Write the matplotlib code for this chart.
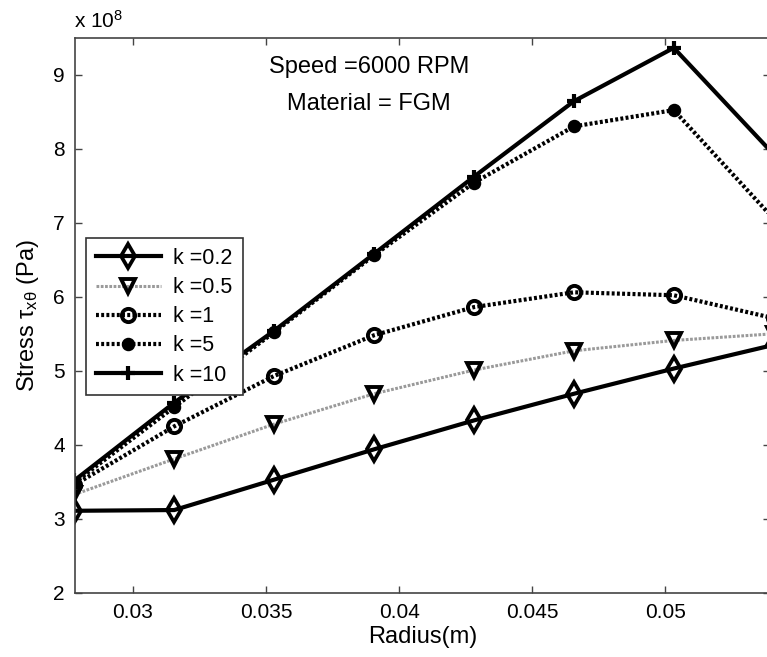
import matplotlib
matplotlib.use('Agg')
import matplotlib.pyplot as plt

plt.rcParams['font.family'] = ['Liberation Sans', 'DejaVu Sans']
plt.rcParams['mathtext.fontset'] = 'custom'
plt.rcParams['mathtext.rm'] = 'Liberation Sans'
plt.rcParams['mathtext.it'] = 'Liberation Sans'
plt.rcParams['mathtext.bf'] = 'Liberation Sans:bold'

# 半径 (m)
radius = [0.0278, 0.03155, 0.0353, 0.03906, 0.04281, 0.04657, 0.05032, 0.05408]

# 剪应力 (x 10^8 Pa)
stress_k02 = [3.11, 3.12, 3.53, 3.94, 4.33, 4.69, 5.03, 5.35]
stress_k05 = [3.33, 3.81, 4.28, 4.69, 5.01, 5.27, 5.41, 5.50]
stress_k1 = [3.46, 4.25, 4.93, 5.48, 5.86, 6.06, 6.02, 5.71]
stress_k5 = [3.49, 4.51, 5.52, 6.56, 7.54, 8.30, 8.52, 7.05]
stress_k10 = [3.52, 4.57, 5.54, 6.58, 7.62, 8.64, 9.36, 7.92]

labels = ['k =0.2', 'k =0.5', 'k =1', 'k =5', 'k =10']

fig = plt.figure(figsize=(7.67, 6.57), dpi=100)
ax = fig.add_axes([74.7 / 767, 64 / 657, (770 - 74.7) / 767, (593 - 37.5) / 657])

dots = (0, (0.7, 0.55))
ax.plot(radius, stress_k02, color='black', lw=3, marker='d', ms=12,
        mfc='none', mec='black', mew=2.7, label=labels[0])
ax.plot(radius, stress_k05, color='#9a9a9a', lw=2.2, ls=(0, (0.9, 0.5)), marker='v', ms=10,
        mfc='none', mec='black', mew=2.8, label=labels[1])
ax.plot(radius, stress_k1, color='black', lw=3, ls=dots, marker='o', ms=9.5,
        mfc='none', mec='black', mew=2.8, label=labels[2])
ax.plot(radius, stress_k5, color='black', lw=3, ls=dots, marker='o', ms=8.5,
        mfc='black', mec='black', mew=1.2, label=labels[3])
ax.plot(radius, stress_k10, color='black', lw=3, marker='+', ms=10.5,
        mec='black', mew=3, label=labels[4])

x_right = 0.05 + (770 - 665.3) / 133 * 0.005
ax.set_xlim(0.02781, x_right)
ax.set_ylim(2, 9.5)
ax.set_xticks([0.03, 0.035, 0.04, 0.045, 0.05])
ax.set_xticklabels(['0.03', '0.035', '0.04', '0.045', '0.05'])
ax.set_yticks([2, 3, 4, 5, 6, 7, 8, 9])

for s in ax.spines.values():
    s.set_color('#444444')
    s.set_linewidth(1.2)
ax.tick_params(direction='in', length=5, width=1, color='#444444',
               labelsize=15, top=True, right=True, pad=7)

ax.set_xlabel('Radius(m)', fontsize=17, labelpad=3)
ax.set_ylabel(r'Stress $\tau_{x\theta}$ (Pa)', fontsize=17, labelpad=9)

fig.text(74 / 767, 1 - 28 / 657, r'x 10$^{8}$', fontsize=15, ha='left', va='baseline')
fig.text(369 / 767, 1 - 66.7 / 657, 'Speed =6000 RPM', fontsize=17, ha='center', va='center')
fig.text(369 / 767, 1 - 104 / 657, 'Material = FGM', fontsize=17, ha='center', va='center')

leg = ax.legend(loc='upper left', bbox_to_anchor=(0.0167, 0.6386), borderaxespad=0,
                fontsize=15.5, handlelength=3.0, labelspacing=0.38, fancybox=False,
                framealpha=1, edgecolor='#333333', borderpad=0.45, handletextpad=0.6)
leg.get_frame().set_linewidth(1.2)

fig.savefig('out.png', dpi=100)
